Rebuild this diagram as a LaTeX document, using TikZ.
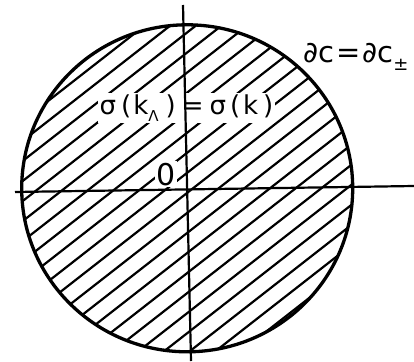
\documentclass[tikz,border=0pt]{standalone}
\usepackage{fontspec}
\newfontfamily\lab{DejaVu Sans}
\usetikzlibrary{calc}
\begin{document}
\begin{tikzpicture}[x=1pt,y=-1pt,
  hatch/.style={line width=2.2pt},
  axis/.style={line width=2.2pt},
  rim/.style={line width=3.3pt},
  lbl/.style={inner sep=1.5pt, fill=white}]
\useasboundingbox (0,0) rectangle (414,361);
\coordinate (c) at (187.2,188.3);
\begin{scope}
  \clip (c) ellipse [x radius=165.5, y radius=163.5];
  \foreach \k in {-8,...,17}{
    \pgfmathsetmacro\hd{188.2+15.8*\k}
    \draw[hatch] ({\hd*sin(38)-400*cos(38)},{\hd*cos(38)+400*sin(38)}) --
                 ({\hd*sin(38)+400*cos(38)},{\hd*cos(38)-400*sin(38)});
  }
\end{scope}
\node[lbl, anchor=base west, font=\lab\fontsize{26}{28}\selectfont] (eq) at (98,114)
  {σ\hspace{5pt}(\hspace{2pt}k\raisebox{-7pt}{\fontsize{15}{15}\selectfont Λ}\hspace{7pt})\hspace{6pt}=\hspace{6pt}σ\hspace{4pt}(\hspace{3pt}k\hspace{5pt})};
\node[lbl, anchor=base west, font=\lab\fontsize{30}{32}\selectfont] (zero) at (155,185) {0};
\node[inner sep=0pt, anchor=base west, font=\lab\fontsize{29}{31}\selectfont] (bd) at (303,62)
  {∂c\hspace{2pt}=\hspace{2pt}∂c\raisebox{-8pt}{\fontsize{18}{18}\selectfont ±}};
\coordinate (hl) at (15,192);
\coordinate (hr) at (414,186);
\coordinate (vt) at (183,5);
\coordinate (vb) at (191,361);
\draw[axis] (hl) -- (hr);
\draw[axis] (vt) -- (vb);
\draw[rim] (c) ellipse [x radius=165.5, y radius=163.5];
\end{tikzpicture}
\end{document}
